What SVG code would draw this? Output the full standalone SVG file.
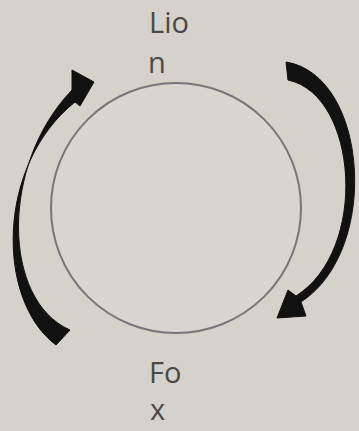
<svg xmlns="http://www.w3.org/2000/svg" width="359" height="431" viewBox="0 0 359 431">
<style>
.lbl{font-family:"Open Sans","Liberation Sans",sans-serif;font-size:29px;fill:#4a4947}
.arc{fill:#111;stroke:#111;stroke-width:1;stroke-linejoin:round}
</style>
<rect width="359" height="431" fill="#d5d2cc"/>
<g id="circle"><circle cx="176" cy="208" r="125" fill="#d9d6d1" stroke="#77767a" stroke-width="2"/></g>
<g id="lion"><text class="lbl" x="149" y="33">Lio</text><text class="lbl" x="148" y="73">n</text></g>
<g id="fox"><text class="lbl" x="149" y="383">Fo</text><text class="lbl" x="150" y="420">x</text></g>
<g id="connectors">
<path class="arc" d="M56,345 C-4,300 -4,165 75,102 L80,106 L94,82 L72,70 L72,90 C0,165 2,300 70,330 Z"/>
<path class="arc" d="M286,62 C368,75 381,250 301,302 L306,316 L277,318 L288,290 L296,296 C369,250 358,95 288,80 Z"/>
</g>
</svg>
